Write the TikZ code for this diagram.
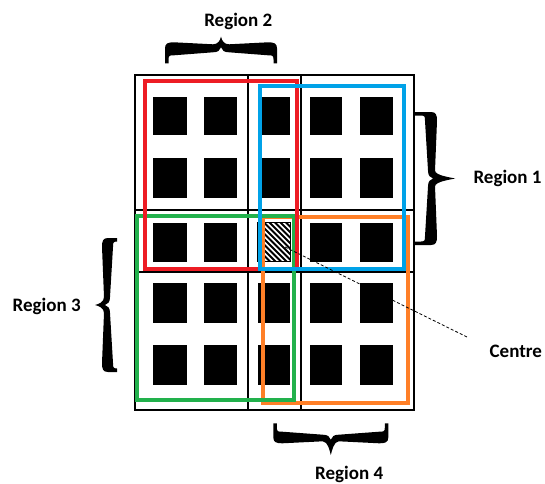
\documentclass[tikz,border=0pt]{standalone}
\usepackage{fontspec}
\setmainfont{Carlito}
\definecolor{pred}{RGB}{237,28,36}
\definecolor{pblue}{RGB}{0,162,232}
\definecolor{pgreen}{RGB}{34,177,76}
\definecolor{porange}{RGB}{255,127,39}
\newcommand\mybrace[4]{%
\pgfmathsetmacro\bM{#1/2}%
\pgfmathsetmacro\bA{#2}%
\pgfmathsetmacro\bha{#3}%
\pgfmathsetmacro\bhb{#3+#4}%
\pgfmathsetmacro\bL{#1}%
\fill[bracefill] (0,0) -- (0,\bhb-6) .. controls (0,\bhb-1) and (3,\bhb) .. (9,\bhb)
  -- (\bM-8,\bhb-2) .. controls (\bM-3,\bhb-2) and (\bM-1,\bA-4) .. (\bM,\bA)
  .. controls (\bM+1,\bA-4) and (\bM+3,\bhb-2) .. (\bM+8,\bhb-2)
  -- (\bL-9,\bhb) .. controls (\bL-3,\bhb) and (\bL,\bhb-1) .. (\bL,\bhb-6)
  -- (\bL,0) -- (\bL-3.5,0) -- (\bL-3.5,\bha-4) .. controls (\bL-3.5,\bha) and (\bL-5,\bha) .. (\bL-9,\bha)
  -- (\bM+8,\bha+3) .. controls (\bM+3,\bha+3) and (\bM+1,\bha+5) .. (\bM,\bha+8)
  .. controls (\bM-1,\bha+5) and (\bM-3,\bha+3) .. (\bM-8,\bha+3)
  -- (9,\bha) .. controls (5,\bha) and (3.5,\bha) .. (3.5,\bha-4) -- (3.5,0) -- cycle;
}
\begin{document}
\begin{tikzpicture}[x=1pt,y=1pt,
  gridline/.style={line width=1.1pt, black},
  region/.style={line width=4pt},
  lbl/.style={font=\fontsize{19}{22}\selectfont\bfseries, anchor=base, inner sep=0pt},
  bracefill/.style={fill=black},
  pointer/.style={line width=0.8pt, dash pattern=on 3pt off 2pt}]
\useasboundingbox (0,0) rectangle (545,483);
% grid
\draw[gridline] (135,73) rectangle (414,408);
\draw[gridline] (248,73) -- (248,408);
\draw[gridline] (301,73) -- (301,408);
\draw[gridline] (135,273) -- (414,273);
\draw[gridline] (135,211) -- (414,211);
% black squares
\foreach \xa/\xb in {153.3/186.7,204/237.3,257.7/290,310/342.3,360/393.3}
  \foreach \ya/\yb in {348/386.3,285.3/325.3,221.3/260.3,159.7/199.7,98/138}
    \fill[black] (\xa,\ya) rectangle (\xb,\yb);
% hatched centre square
\fill[white] (257.7,221.3) rectangle (290,260.3);
\begin{scope}
  \clip (257.7,221.3) rectangle (290,260.3);
  \foreach \k in {0,...,16}
    \draw[line width=2pt] (212+\k*5.5,263) -- (257+\k*5.5,218);
\end{scope}
\draw[line width=1pt] (257.7,221.3) rectangle (290,260.3);
% region rectangles
\draw[region,porange] (263,80) rectangle (407.8,266);
\draw[region,pgreen] (137,82.7) rectangle (293.7,266.8);
\draw[region,pred] (144.7,214.3) rectangle (297.3,401.7);
\draw[region,pblue] (260.3,214.3) rectangle (403.8,396.8);
% braces
\begin{scope}[shift={(165,419.7)}] \mybrace{112}{26.6}{8}{13} \end{scope}
\begin{scope}[shift={(273.3,59.7)},yscale=-1] \mybrace{115}{31.7}{8.4}{11.6} \end{scope}
\begin{scope}[shift={(413,371)},rotate=-90] \mybrace{133}{42}{12}{12} \end{scope}
\begin{scope}[shift={(117,111)},rotate=90] \mybrace{134}{22}{4}{11} \end{scope}
% labels
\node[lbl] (r2) at (238.3,456.3) {Region 2};
\node[lbl] (r1) at (507.5,299.7) {Region 1};
\node[lbl] (r3) at (46.7,172) {Region 3};
\node[lbl] (r4) at (349.2,4) {Region 4};
\node[lbl] (ctr) at (515.8,125.7) {Centre};
% pointer
\coordinate (cstart) at (285,236);
\coordinate (cend) at (467,146);
\draw[pointer] (cstart) -- (cend);
\end{tikzpicture}
\end{document}
